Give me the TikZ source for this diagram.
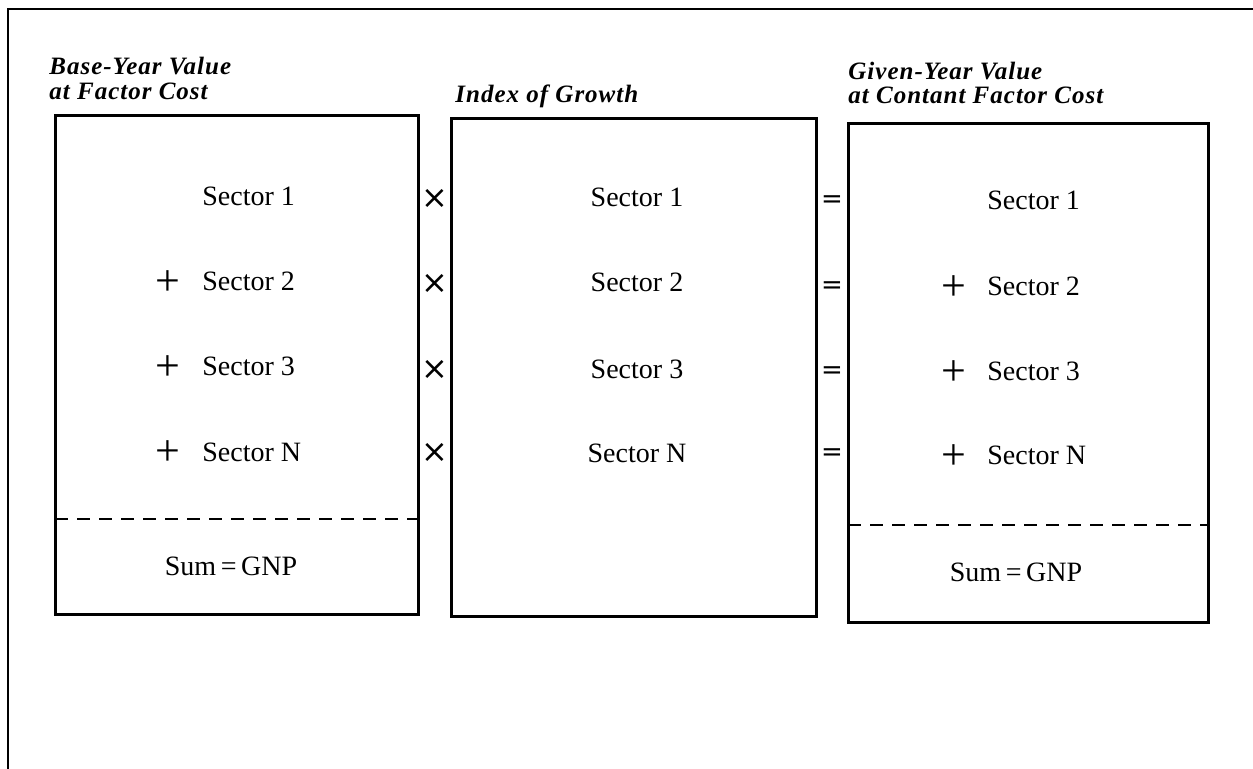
\documentclass[tikz,border=0pt]{standalone}
\usepackage{fontspec}
\setmainfont{Liberation Serif}
\newfontfamily\titlefont[LetterSpace=4]{Liberation Serif}
\newfontfamily\symfont{DejaVu Sans}
\begin{document}
\begin{tikzpicture}[x=0.5pt,y=-0.5pt,
  panel/.style={draw,line width=1.5pt,rectangle,inner sep=0pt},
  title/.style={font=\fontsize{12.5}{14}\titlefont\bfseries\itshape,anchor=base west,inner sep=0pt,align=left},
  entry/.style={font=\fontsize{14}{16}\selectfont,inner sep=0pt,anchor=base west},
  centry/.style={font=\fontsize{14}{16}\selectfont,inner sep=0pt,anchor=base},
  plussign/.style={font=\fontsize{22}{22}\selectfont,inner sep=0pt},
  timessign/.style={font=\fontsize{16}{16}\symfont,inner sep=0pt},
  opsign/.style={font=\fontsize{13}{16}\symfont,inner sep=0pt},
  sumline/.style={dashed,dash pattern=on 6.5pt off 4.5pt,line width=0.9pt}]
\useasboundingbox (0,0) rectangle (1253,769);
% outer frame (top and left edges only)
\coordinate (ftl) at (8,9);
\coordinate (ftr) at (1253,9);
\coordinate (fbl) at (8,769);
\draw[line width=1pt] (ftr) -- (ftl) -- (fbl);
% panels
\node[panel,minimum width=181.5pt,minimum height=249.5pt] (p1) at (236.5,365.5) {};
\node[panel,minimum width=182.5pt,minimum height=249pt] (p2) at (633.5,368) {};
\node[panel,minimum width=180pt,minimum height=249.5pt] (p3) at (1028,373.5) {};
% titles
\node[title] (t1a) at (49,75) {Base-Year Value};
\node[title] (t1b) at (49,100) {at Factor Cost};
\node[title] (t2) at (455,103) {Index of Growth};
\node[title] (t3a) at (848,80) {Given-Year Value};
\node[title] (t3b) at (848,104) {at Contant Factor Cost};
% panel 1
\node[entry] (a1) at (202,206) {Sector 1};
\node[entry] (a2) at (202,291) {Sector 2};
\node[entry] (a3) at (202,376) {Sector 3};
\node[entry] (a4) at (202,462) {Sector N};
\node[plussign] (pa2) at (168,283) {+};
\node[plussign] (pa3) at (168,368) {+};
\node[plussign] (pa4) at (168,453) {+};
\coordinate (d1l) at (55,519);
\coordinate (d1r) at (418,519);
\draw[sumline] (d1l) -- (d1r);
\node[centry] (s1) at (231,576) {Sum\,=\,GNP};
% panel 2
\node[centry] (b1) at (637,207) {Sector 1};
\node[centry] (b2) at (637,292) {Sector 2};
\node[centry] (b3) at (637,379) {Sector 3};
\node[centry] (b4) at (637,463) {Sector N};
% panel 3
\node[entry] (c1) at (987,210) {Sector 1};
\node[entry] (c2) at (987,296) {Sector 2};
\node[entry] (c3) at (987,381) {Sector 3};
\node[entry] (c4) at (987,465) {Sector N};
\node[plussign] (pc2) at (954,288) {+};
\node[plussign] (pc3) at (954,373) {+};
\node[plussign] (pc4) at (954,457) {+};
\coordinate (d3l) at (848,525);
\coordinate (d3r) at (1208,525);
\draw[sumline] (d3l) -- (d3r);
\node[centry] (s3) at (1016,582) {Sum\,=\,GNP};
% operators
\node[timessign] (x1) at (435,199) {×};
\node[timessign] (x2) at (435,284) {×};
\node[timessign] (x3) at (435,370) {×};
\node[timessign] (x4) at (435,453) {×};
\node[opsign] (e1) at (832,202) {=};
\node[opsign] (e2) at (832,288) {=};
\node[opsign] (e3) at (832,373) {=};
\node[opsign] (e4) at (832,455) {=};
\end{tikzpicture}
\end{document}
